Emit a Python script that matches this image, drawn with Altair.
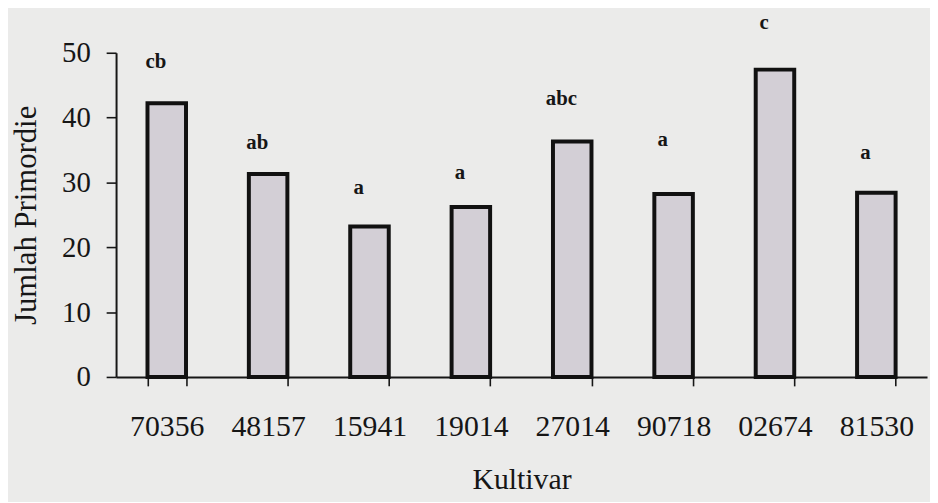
import altair as alt
import pandas as pd

cultivars = ["70356", "48157", "15941", "19014", "27014", "90718", "02674", "81530"]
primordia = [42.2, 31.3, 23.2, 26.2, 36.3, 28.2, 47.4, 28.4]
letters = ["cb", "ab", "a", "a", "abc", "a", "c", "a"]
letter_level = [48.5, 36.0, 29.1, 31.4, 42.9, 36.5, 54.6, 34.5]

df = pd.DataFrame({
    "Kultivar": cultivars,
    "Jumlah": primordia,
    "huruf": letters,
    "tinggi": letter_level,
})

FONT = "Liberation Serif"
INK = "#161616"

x_enc = alt.X(
    "Kultivar:N",
    sort=cultivars,
    title="Kultivar",
    scale=alt.Scale(paddingInner=0.62, paddingOuter=0.31),
    axis=alt.Axis(
        labelAngle=0,
        labelFont=FONT,
        labelFontSize=30,
        labelColor=INK,
        labelPadding=26,
        tickBand="extent",
        tickSize=9,
        tickWidth=1.6,
        tickColor=INK,
        domainColor=INK,
        domainWidth=2,
        titleFont=FONT,
        titleFontSize=30,
        titleFontWeight="normal",
        titleColor=INK,
        titlePadding=24,
    ),
)

y_scale = alt.Scale(domain=[0, 50], nice=False)

bars = alt.Chart(df).mark_bar(
    fill="#d3cfd6",
    stroke="#111111",
    strokeWidth=4,
).encode(
    x=x_enc,
    y=alt.Y(
        "Jumlah:Q",
        title="Jumlah Primordie",
        scale=y_scale,
        axis=alt.Axis(
            values=[0, 10, 20, 30, 40, 50],
            grid=False,
            labelFont=FONT,
            labelFontSize=29,
            labelColor=INK,
            labelPadding=16,
            tickSize=10,
            tickWidth=1.6,
            tickColor=INK,
            domainColor=INK,
            domainWidth=2,
            titleFont=FONT,
            titleFontSize=31,
            titleFontWeight="normal",
            titleColor=INK,
            titlePadding=19,
        ),
    ),
)

labels = alt.Chart(df).mark_text(
    font=FONT,
    fontSize=21,
    fontWeight="bold",
    color=INK,
    baseline="middle",
    dx=-11,
).encode(
    x=alt.X("Kultivar:N", sort=cultivars),
    y=alt.Y("tinggi:Q", scale=y_scale),
    text="huruf:N",
)

chart = (bars + labels).properties(
    width=818,
    height=327,
    padding={"left": 109, "top": 43, "right": 3, "bottom": 124},
    autosize=alt.AutoSizeParams(type="none"),
    background="#ebebea",
).configure_view(stroke=None)

chart.save("out.html", embed_options={"renderer": "svg", "actions": False})
